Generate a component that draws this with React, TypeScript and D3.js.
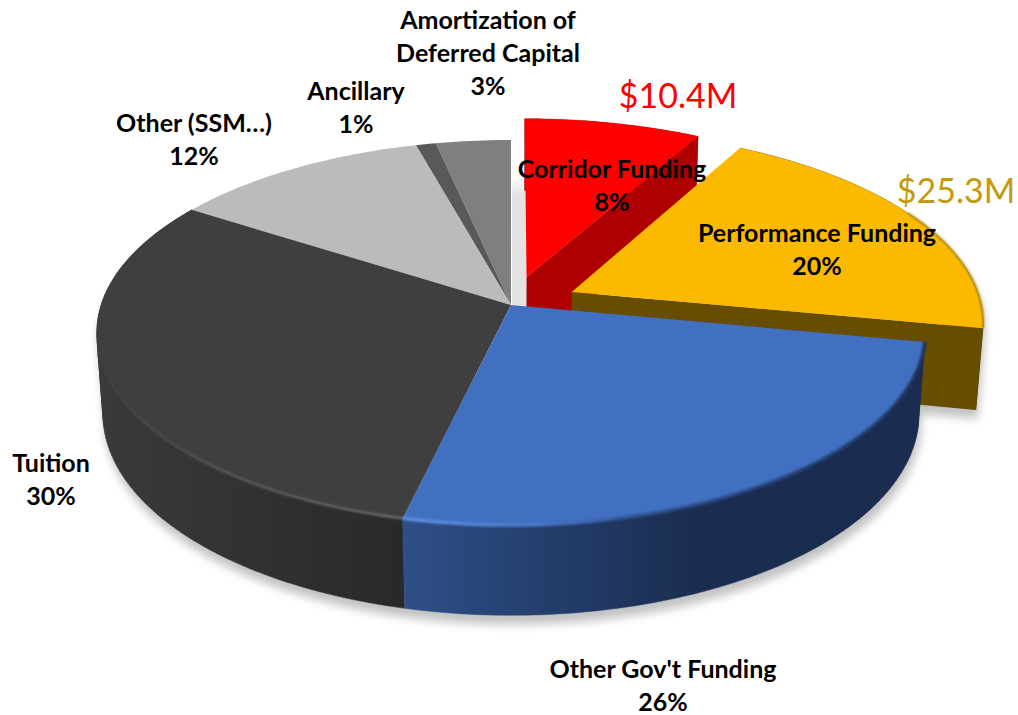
import React from "react";
import * as d3 from "d3";

const categories = ["Corridor Funding", "Performance Funding", "Other Gov't Funding", "Tuition", "Other (SSM…)", "Ancillary", "Amortization of Deferred Capital"];
const shares = [8.05, 20, 25.6, 30.5, 11.6, 0.9, 3.35];
const shownPercents = ["8%", "20%", "26%", "30%", "12%", "1%", "3%"];
const explode = [0.155, 0.165, 0, 0, 0, 0, 0];
const topColors = ["#ff0000", "#fbba00", "#4170c0", "#3f3f3f", "#bbbbbb", "#595959", "#7f7f7f"];
const wallColors = ["#ae0000", "#664d00", "url(#wallBlue)", "url(#wallDark)", "#888", "#333", "#555"];
const labelLines = [["Corridor Funding"], ["Performance Funding"], ["Other Gov't Funding"], ["Tuition"], ["Other (SSM…)"], ["Ancillary"], ["Amortization of", "Deferred Capital"]];
const labelAnchors: [number, number][] = [[612, 178], [817, 242], [663, 678], [51, 472], [194, 132], [356, 100], [488, 29]];
const amounts = [{ text: "$10.4M", color: "#ff0000", x: 678, y: 108 }, { text: "$25.3M", color: "#c49a0c", x: 956, y: 203 }];

const CX = 511, CY = 305, R = 410, F = 188.6, A = 0.143, B = 0.015, H = 82;
const FONT = "Lato, 'Open Sans', sans-serif";

type P = [number, number];
function project(u: number, v: number, z: number): P {
  const s = 1 / (1 + A * v + B * z);
  return [CX + u * R * s, CY - v * F * s + z * H * s];
}

const pieGen = d3.pie<number>().sort(null).value((d) => d);
const arcs = pieGen(shares);
const line = d3.line<P>();

function rim(i: number, a0: number, a1: number, z: number): P[] {
  const mid = (arcs[i].startAngle + arcs[i].endAngle) / 2;
  const ox = explode[i] * Math.sin(mid), oy = explode[i] * Math.cos(mid);
  const n = Math.max(2, Math.ceil(Math.abs(a1 - a0) / 0.02));
  return d3.range(n + 1).map((k) => {
    const t = a0 + ((a1 - a0) * k) / n;
    return project(Math.sin(t) + ox, Math.cos(t) + oy, z);
  });
}
function apex(i: number, z: number): P {
  const mid = (arcs[i].startAngle + arcs[i].endAngle) / 2;
  return project(explode[i] * Math.sin(mid), explode[i] * Math.cos(mid), z);
}
const closed = (pts: P[]) => line(pts) + "Z";
const face = (i: number, z: number) => closed([apex(i, z), ...rim(i, arcs[i].startAngle, arcs[i].endAngle, z)]);
// The wall is the sweep of the rim between top and bottom, as quads wound the same way.
const outerWall = (i: number) => {
  const a = arcs[i];
  const t = rim(i, a.startAngle, a.endAngle, 0);
  const b = rim(i, a.startAngle, a.endAngle, 1);
  return d3.range(t.length - 1).map((k) => {
    const q: P[] = [t[k], t[k + 1], b[k + 1], b[k]];
    return closed(d3.polygonArea(q) < 0 ? q.reverse() : q);
  }).join("");
};
const radialWall = (i: number, t: number) => closed([apex(i, 0), rim(i, t, t, 0)[0], rim(i, t, t, 1)[0], apex(i, 1)]);
const rimStroke = (i: number, a0: number, a1: number) => line(rim(i, a0, a1, 0)) as string;

const backOrder = [6, 5, 4];
const frontOrder = [0, 1, 3, 2];

export default function App() {
  const stripLeft = apex(2, 0)[0] + 1;
  const stripRight = apex(0, 0)[0];
  const stripTop = rim(0, 0, 0, 1)[0][1] - 15;
  return (
    <svg width={1018} height={715} style={{ position: "absolute", left: 0, top: 0 }}>
      <defs>
        <filter id="soft" x="-10%" y="-10%" width="120%" height="120%"><feGaussianBlur stdDeviation="5" /></filter>
        <filter id="bevel" x="-5%" y="-5%" width="110%" height="110%"><feGaussianBlur stdDeviation="1.1" /></filter>
        <linearGradient id="wallDark" gradientUnits="userSpaceOnUse" x1="100" x2="403" y1="0" y2="0">
          <stop offset="0" stopColor="#3a3a3a" /><stop offset="1" stopColor="#292929" />
        </linearGradient>
        <linearGradient id="wallBlue" gradientUnits="userSpaceOnUse" x1="403" x2="700" y1="0" y2="0">
          <stop offset="0" stopColor="#2e4f87" /><stop offset="1" stopColor="#1a2c50" />
        </linearGradient>
        <linearGradient id="bevelBlue" gradientUnits="userSpaceOnUse" x1="403" x2="920" y1="0" y2="0">
          <stop offset="0" stopColor="#5f8fe6" /><stop offset="0.25" stopColor="#4a79cc" />
          <stop offset="0.45" stopColor="#2f5090" /><stop offset="1" stopColor="#1f3660" />
        </linearGradient>
        <linearGradient id="bevelDark" gradientUnits="userSpaceOnUse" x1="105" x2="403" y1="0" y2="0">
          <stop offset="0" stopColor="#3f3f3f" /><stop offset="0.4" stopColor="#555" /><stop offset="1" stopColor="#686868" />
        </linearGradient>
        <linearGradient id="stripFade" x1="0" x2="0" y1="0" y2="1">
          <stop offset="0" stopColor="#e3e3e3" stopOpacity="0" /><stop offset="0.15" stopColor="#e3e3e3" /><stop offset="1" stopColor="#e3e3e3" />
        </linearGradient>
      </defs>

      <g filter="url(#soft)" opacity={0.24} transform="translate(2,9)">
        {frontOrder.map((i) => <path key={i} d={face(i, 1)} fill="#000" />)}
        {[1, 2, 3].map((i) => <path key={`w${i}`} d={outerWall(i)} fill="#000" />)}
      </g>
      <rect x={stripLeft} y={stripTop} width={stripRight - stripLeft} height={CY - stripTop} fill="url(#stripFade)" />

      {backOrder.map((i) => <path key={categories[i]} d={face(i, 0)} fill={topColors[i]} />)}

      {frontOrder.map((i) => (
        <g key={categories[i]}>
          <path d={outerWall(i)} fill={wallColors[i]} stroke={wallColors[i]} strokeWidth={0.4} />
          {explode[i] > 0 && <path d={radialWall(i, arcs[i].endAngle)} fill={wallColors[i]} />}
          <path d={face(i, 0)} fill={topColors[i]} />
        </g>
      ))}

      <path d={rimStroke(3, arcs[3].startAngle, Math.PI * 1.42)} fill="none" stroke="url(#bevelDark)" strokeWidth={2.6} filter="url(#bevel)" />
      <path d={rimStroke(2, arcs[2].startAngle, arcs[2].endAngle)} fill="none" stroke="url(#bevelBlue)" strokeWidth={3.4} filter="url(#bevel)" />
      <path d={rimStroke(1, 1.1, arcs[1].endAngle)} fill="none" stroke="#a88300" strokeWidth={1.8} filter="url(#bevel)" />

      <g fontFamily={FONT} fontWeight={700} fontSize={25} fill="#000" textAnchor="middle">
        {categories.map((c, i) => {
          const lines = [...labelLines[i], shownPercents[i]];
          return (
            <text key={c} x={labelAnchors[i][0]} y={labelAnchors[i][1]}>
              {lines.map((t, k) => <tspan key={k} x={labelAnchors[i][0]} dy={k === 0 ? 0 : 33}>{t}</tspan>)}
            </text>
          );
        })}
      </g>
      <g fontFamily={FONT} fontSize={34} textAnchor="middle">
        {amounts.map((a) => <text key={a.text} x={a.x} y={a.y} fill={a.color}>{a.text}</text>)}
      </g>
    </svg>
  );
}
